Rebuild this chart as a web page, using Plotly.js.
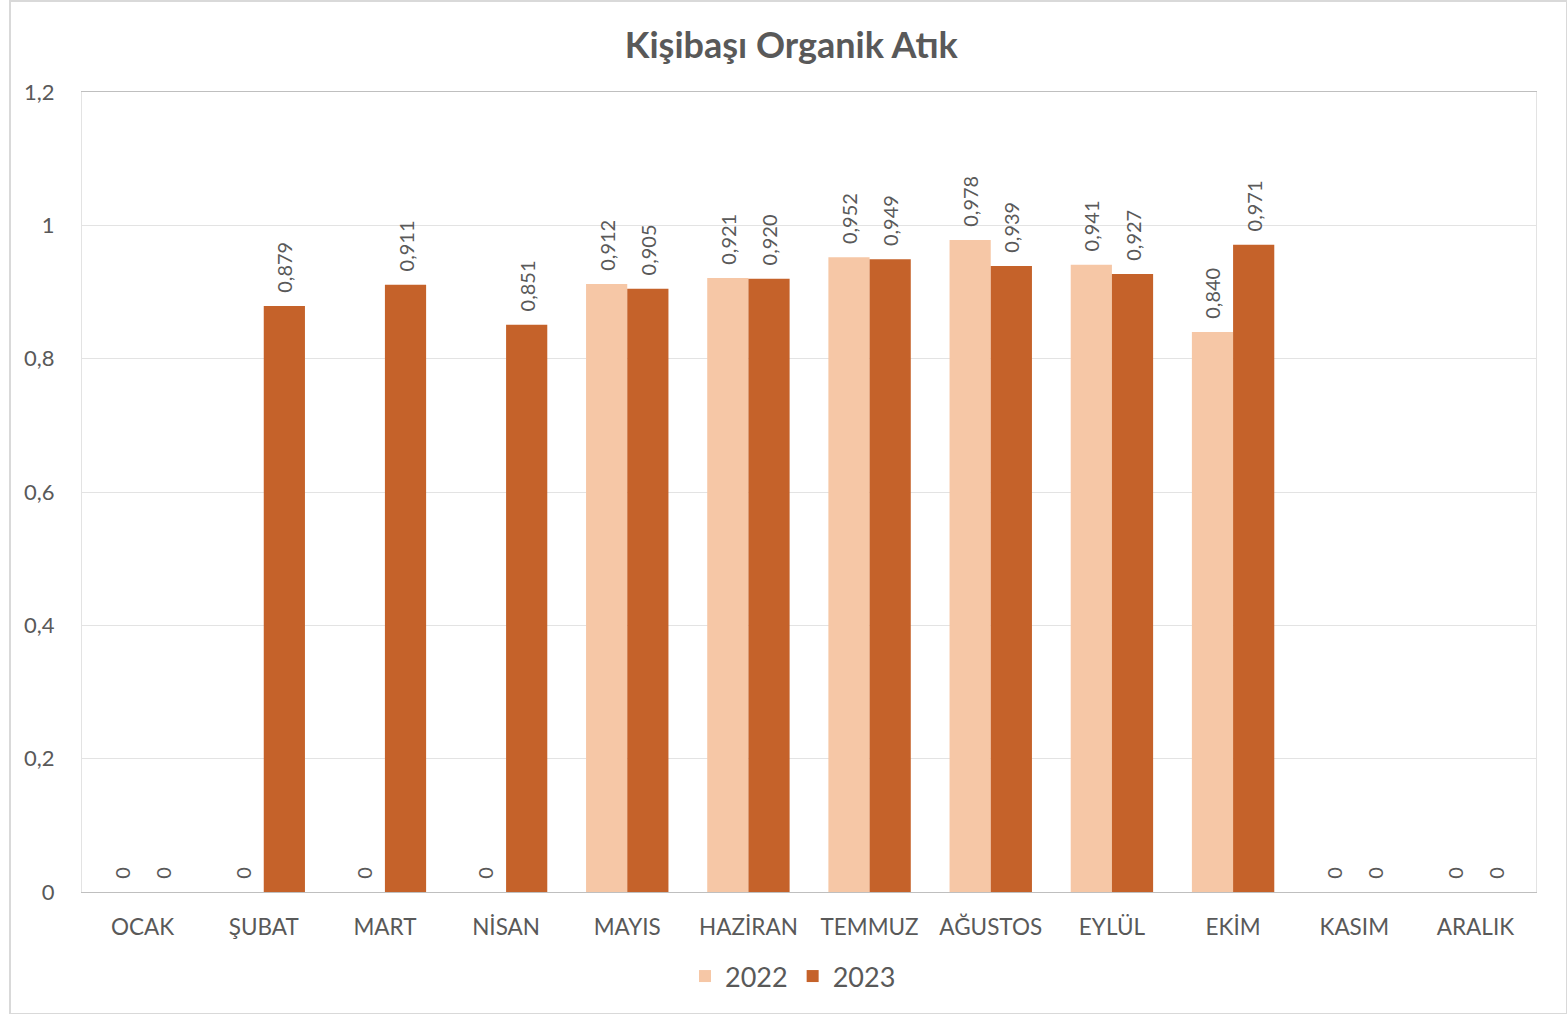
<!DOCTYPE html>
<html><head><meta charset="utf-8">
<script src="https://cdn.plot.ly/plotly-3.0.1.min.js"></script>
<style>
html,body{margin:0;padding:0;background:#fff;}
#chart{width:1567px;height:1014px;position:absolute;left:0;top:0;}
#frame{position:absolute;left:9px;top:0px;width:1555px;height:1011px;border:2px solid #D9D9D9;pointer-events:none;}
</style>
</head><body>
<div id="chart"></div>
<div id="frame"></div>
<script>
const months = ["OCAK","ŞUBAT","MART","NİSAN","MAYIS","HAZİRAN","TEMMUZ","AĞUSTOS","EYLÜL","EKİM","KASIM","ARALIK"];
const values2022 = [0,0,0,0,0.912,0.921,0.952,0.978,0.941,0.840,0,0];
const values2023 = [0,0.879,0.911,0.851,0.905,0.920,0.949,0.939,0.927,0.971,0,0];
const yTicks = [0,0.2,0.4,0.6,0.8,1,1.2];

const PAD = "\u00A0\u00A0";
function fmt(v){ return PAD + (v === 0 ? "0" : v.toFixed(3).replace(".", ",")); }
const FONT = "Lato, 'Open Sans', sans-serif";
const textFont = {family: FONT, size: 20, color: "#595959"};

const traces = [
  {type:"bar", name:"2022", x:months, y:values2022, text:values2022.map(fmt),
   textposition:"outside", textangle:-90, textfont:textFont, cliponaxis:false, constraintext:"none",
   marker:{color:"#F6C7A6"}, hoverinfo:"x+y"},
  {type:"bar", name:"2023", x:months, y:values2023, text:values2023.map(fmt),
   textposition:"outside", textangle:-90, textfont:textFont, cliponaxis:false, constraintext:"none",
   marker:{color:"#C5622A"}, hoverinfo:"x+y"}
];

const layout = {
  width:1567, height:1014,
  paper_bgcolor:"rgba(0,0,0,0)", plot_bgcolor:"#fff",
  separators:",.",
  margin:{l:82, r:31, t:92, b:122},
  title:{text:"<b>Kişibaşı Organik Atık</b>", x:0.505, xanchor:"center", y:0.955, yanchor:"middle",
         font:{family:FONT, size:36, color:"#595959"}},
  barmode:"group", bargap:0.32, bargroupgap:0,
  xaxis:{type:"category", tickfont:{family:FONT, size:22.5, color:"#595959"},
         showline:true, linecolor:"#BFBFBF", linewidth:1, mirror:true, ticks:"", ticklen:0, showgrid:false,
         ticklabelstandoff:15, automargin:false},
  yaxis:{range:[0,1.2], tickvals:yTicks, ticktext:yTicks.map(v=>v===0?"0":String(v).replace(".",",")),
         tickfont:{family:FONT, size:22, color:"#595959"}, gridcolor:"#E3E3E3", gridwidth:1,
         showline:true, linecolor:"#E3E3E3", mirror:true, zeroline:false, ticks:"", ticklabelstandoff:22,
         automargin:false},
  showlegend:true,
  legend:{orientation:"h", x:0.489, xanchor:"center", y:-0.075, yanchor:"top",
          font:{family:FONT, size:27, color:"#595959"}, itemwidth:30, traceorder:"normal"}
};

Plotly.newPlot("chart", traces, layout, {displayModeBar:false, staticPlot:true});
</script>
</body></html>
